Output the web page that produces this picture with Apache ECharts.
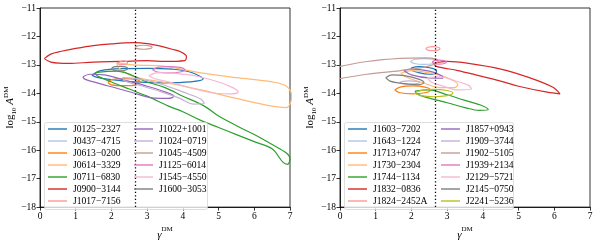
<!DOCTYPE html>
<html><head><meta charset="utf-8">
<script src="https://cdn.jsdelivr.net/npm/echarts@6/dist/echarts.min.js"></script>
<style>html,body{margin:0;padding:0;background:#fff}#c{width:598px;height:246px}</style>
</head><body><div id="c"></div>
<script>
// ---- reference value of gamma (dotted line) ----
const GAMMA_REF = 8/3;
const Y_TICKS = [-18,-17,-16,-15,-14,-13,-12,-11];
const X_TICKS = [0,1,2,3,4,5,6,7];

// ---- left panel pulsars ----
const LEFT_NAMES = ['J0125−2327','J0437−4715','J0613−0200','J0614−3329','J0711−6830','J0900−3144','J1017−7156',
                    'J1022+1001','J1024−0719','J1045−4509','J1125−6014','J1545−4550','J1600−3053'];
const J0125 = [[1.45,-13.36],[1.7,-13.2],[2.3,-13.13],[3.0,-13.12],[3.7,-13.15],[4.2,-13.25],[4.57,-13.5],[4.2,-13.6],[3.5,-13.63],[2.7,-13.6],[2.0,-13.52],[1.6,-13.44],[1.45,-13.36]];
const J0437 = [];
const J0613 = [[1.9,-13.62],[2.0,-13.52],[2.35,-13.48],[2.7,-13.52],[2.8,-13.6],[2.7,-13.7],[2.35,-13.73],[2.0,-13.7],[1.9,-13.62]];
const J0614 = [[2.15,-12.92],[2.6,-13.0],[3.5,-13.05],[4.5,-13.28],[5.5,-13.45],[6.5,-13.6],[6.9,-13.75],[7.05,-14.1],[6.9,-14.5],[6.5,-14.45],[5.5,-14.18],[4.5,-13.88],[3.5,-13.62],[2.6,-13.4],[2.2,-13.1],[2.15,-12.92]];
const J0711 = [[1.55,-13.27],[2.15,-13.22],[3.0,-13.6],[3.5,-13.8],[4.0,-14.1],[4.6,-14.45],[5.0,-14.8],[5.6,-15.2],[6.0,-15.45],[6.5,-15.8],[6.9,-16.1],[7.0,-16.3],[6.93,-16.5],[6.8,-16.42],[6.5,-15.95],[6.0,-15.7],[5.5,-15.45],[5.0,-15.2],[4.5,-14.95],[4.0,-14.65],[3.6,-14.45],[3.0,-14.1],[2.5,-13.85],[2.0,-13.6],[1.6,-13.38],[1.55,-13.27]];
const J0900 = [[0.12,-12.78],[0.3,-12.62],[0.6,-12.52],[1.0,-12.42],[1.5,-12.32],[2.0,-12.26],[2.6,-12.22],[3.0,-12.25],[3.4,-12.35],[3.7,-12.45],[3.95,-12.55],[4.1,-12.7],[4.05,-12.85],[3.5,-12.88],[3.0,-12.85],[2.3,-12.88],[1.5,-12.9],[0.8,-12.95],[0.3,-12.9],[0.12,-12.78]];
const J1017 = [[2.17,-12.95],[2.25,-12.88],[2.35,-12.86],[2.45,-12.92],[2.4,-12.98],[2.25,-12.99],[2.17,-12.95]];
const J1022 = [[1.2,-13.42],[1.4,-13.33],[1.8,-13.35],[2.4,-13.55],[3.0,-13.75],[3.5,-13.95],[3.75,-14.1],[3.6,-14.18],[3.2,-14.17],[2.6,-13.98],[2.0,-13.77],[1.5,-13.6],[1.25,-13.5],[1.2,-13.42]];
const J1024 = [[2.3,-13.45],[2.8,-13.5],[3.4,-13.68],[4.0,-13.95],[4.5,-14.2],[4.6,-14.35],[4.3,-14.38],[3.9,-14.17],[3.4,-13.95],[2.8,-13.72],[2.4,-13.58],[2.3,-13.45]];
const J1045 = [[2.66,-12.38],[2.73,-12.33],[2.9,-12.31],[3.07,-12.33],[3.14,-12.38],[3.07,-12.43],[2.9,-12.45],[2.73,-12.43],[2.66,-12.38]];
const J1125 = [[3.15,-13.17],[3.29,-13.09],[3.6,-13.06],[3.92,-13.09],[4.05,-13.17],[3.92,-13.25],[3.6,-13.28],[3.29,-13.25],[3.15,-13.17]];
const J1545 = [[3.05,-13.38],[3.3,-13.27],[3.8,-13.3],[4.4,-13.4],[5.0,-13.6],[5.4,-13.8],[5.55,-13.95],[5.3,-14.02],[4.8,-13.98],[4.2,-13.8],[3.6,-13.6],[3.2,-13.48],[3.05,-13.38]];
const J1600 = [[2.0,-13.13],[2.07,-13.07],[2.23,-13.05],[2.39,-13.07],[2.46,-13.13],[2.39,-13.19],[2.23,-13.21],[2.07,-13.19],[2.0,-13.13]];
const LEFT_DATA = [J0125,J0437,J0613,J0614,J0711,J0900,J1017,J1022,J1024,J1045,J1125,J1545,J1600];
const LEFT_COLORS = ['#1f77b4','#aec7e8','#ff7f0e','#ffbb78','#2ca02c','#d62728','#ff9896','#9467bd','#c5b0d5','#c49c94','#e377c2','#f7b6d2','#7f7f7f'];

// ---- right panel pulsars ----
const RIGHT_NAMES = ['J1603−7202','J1643−1224','J1713+0747','J1730−2304','J1744−1134','J1832−0836','J1824−2452A',
                     'J1857+0943','J1909−3744','J1902−5105','J1939+2134','J2129−5721','J2145−0750','J2241−5236'];
const J1603 = [[2.0,-13.1],[2.2,-13.06],[2.5,-13.1],[2.7,-13.2],[2.7,-13.3],[2.5,-13.33],[2.2,-13.27],[2.0,-13.17],[2.0,-13.1]];
const J1643 = [[1.97,-12.88],[2.08,-12.81],[2.35,-12.78],[2.62,-12.81],[2.73,-12.88],[2.62,-12.95],[2.35,-12.98],[2.08,-12.95],[1.97,-12.88]];
const J1713 = [[1.53,-13.88],[1.68,-13.78],[2.03,-13.74],[2.38,-13.78],[2.53,-13.88],[2.38,-13.98],[2.03,-14.02],[1.68,-13.98],[1.53,-13.88]];
const J1730 = [[1.7,-13.3],[2.0,-13.2],[2.5,-13.28],[3.0,-13.45],[3.3,-13.7],[3.2,-13.8],[2.8,-13.8],[2.3,-13.62],[1.9,-13.45],[1.7,-13.3]];
const J1744 = [[2.1,-13.92],[2.5,-13.88],[3.0,-14.05],[3.5,-14.25],[3.95,-14.42],[4.15,-14.57],[3.9,-14.6],[3.5,-14.5],[3.0,-14.33],[2.5,-14.17],[2.15,-14.02],[2.1,-13.92]];
const J1832 = [[2.62,-12.95],[3.0,-12.88],[3.6,-12.95],[4.5,-13.15],[5.3,-13.45],[5.95,-13.78],[6.16,-14.02],[5.8,-13.96],[5.0,-13.75],[4.5,-13.57],[3.8,-13.35],[3.3,-13.2],[2.7,-13.05],[2.62,-12.95]];
const J1824 = [[2.4,-12.43],[2.46,-12.38],[2.6,-12.36],[2.74,-12.38],[2.8,-12.43],[2.74,-12.48],[2.6,-12.5],[2.46,-12.48],[2.4,-12.43]];
const J1857 = [[1.78,-13.2],[2.0,-13.15],[2.5,-13.22],[2.85,-13.38],[2.88,-13.47],[2.5,-13.46],[2.0,-13.35],[1.78,-13.2]];
const J1909 = [[1.67,-13.62],[1.75,-13.58],[1.95,-13.56],[2.15,-13.58],[2.23,-13.62],[2.15,-13.66],[1.95,-13.68],[1.75,-13.66],[1.67,-13.62]];
const J1902 = [[-0.3,-13.1],[0,-13.05],[0.75,-12.88],[1.68,-12.77],[2.4,-12.75],[2.7,-12.8],[2.75,-12.88],[2.45,-13.05],[1.7,-13.2],[0.75,-13.33],[0,-13.48],[-0.3,-13.53]];
const J1939 = [[2.58,-12.9],[2.64,-12.85],[2.78,-12.83],[2.92,-12.85],[2.98,-12.9],[2.92,-12.95],[2.78,-12.97],[2.64,-12.95],[2.58,-12.9]];
const J2129 = [[2.45,-13.45],[2.8,-13.42],[3.2,-13.55],[3.6,-13.72],[3.68,-13.85],[3.3,-13.88],[2.9,-13.75],[2.55,-13.6],[2.45,-13.45]];
const J2145 = [[1.28,-13.45],[1.45,-13.35],[1.8,-13.38],[2.2,-13.5],[2.35,-13.62],[2.2,-13.7],[1.8,-13.66],[1.4,-13.57],[1.28,-13.45]];
const J2241 = [[2.1,-13.99],[2.26,-13.9],[2.63,-13.86],[3.0,-13.9],[3.16,-13.99],[3.0,-14.08],[2.63,-14.12],[2.26,-14.08],[2.1,-13.99]];
const RIGHT_DATA = [J1603,J1643,J1713,J1730,J1744,J1832,J1824,J1857,J1909,J1902,J1939,J2129,J2145,J2241];
const RIGHT_COLORS = ['#1f77b4','#aec7e8','#ff7f0e','#ffbb78','#2ca02c','#d62728','#ff9896','#9467bd','#c5b0d5','#c49c94','#e377c2','#f7b6d2','#7f7f7f','#bcbd22'];

const SERIF = '"Liberation Serif","DejaVu Serif",serif';
const minus = v => String(v).replace('-', '\u2212');

function makeAxes(idx) {
  const xa = {
    type:'value', gridIndex:idx, min:0, max:7, interval:1,
    name:'{i|γ}{s|DM}', nameLocation:'middle', nameGap:12,
    nameTextStyle:{ rich:{
      i:{fontFamily:SERIF,fontStyle:'italic',fontSize:11,color:'#000',lineHeight:15,verticalAlign:'bottom'},
      s:{fontFamily:SERIF,fontSize:7,color:'#000',lineHeight:15,verticalAlign:'top'} } },
    axisLine:{show:true,onZero:false,lineStyle:{color:'#000',width:0.8}},
    axisTick:{show:true,inside:false,length:3.5,lineStyle:{color:'#000',width:0.8}},
    axisLabel:{fontFamily:SERIF,fontSize:9.5,color:'#000',margin:4,formatter:minus},
    splitLine:{show:false}
  };
  const ya = {
    type:'value', gridIndex:idx, min:-18, max:-11, interval:1,
    name:'{r|log}{b|10}{i| A}{s|DM}', nameLocation:'middle', nameGap:20, nameRotate:90,
    nameTextStyle:{ rich:{
      r:{fontFamily:SERIF,fontSize:11,color:'#000',lineHeight:15,verticalAlign:'middle'},
      b:{fontFamily:SERIF,fontSize:7,color:'#000',lineHeight:15,verticalAlign:'bottom'},
      i:{fontFamily:SERIF,fontStyle:'italic',fontSize:11,color:'#000',lineHeight:15,verticalAlign:'middle'},
      s:{fontFamily:SERIF,fontSize:7,color:'#000',lineHeight:15,verticalAlign:'top'} } },
    axisLine:{show:true,onZero:false,lineStyle:{color:'#000',width:0.8}},
    axisTick:{show:true,inside:false,length:3.5,lineStyle:{color:'#000',width:0.8}},
    axisLabel:{fontFamily:SERIF,fontSize:9.5,color:'#000',margin:4,formatter:minus},
    splitLine:{show:false}
  };
  return [xa, ya];
}

const [x0,y0] = makeAxes(0);
const [x1,y1] = makeAxes(1);

const series = [];
function addPanel(names, datas, colors, idx) {
  names.forEach((n,i) => {
    series.push({
      name:n, type:'line', xAxisIndex:idx, yAxisIndex:idx,
      data:datas[i], symbol:'none', showSymbol:false, smooth:0.35,
      lineStyle:{color:colors[i],width:1.2}, itemStyle:{color:colors[i]},
      emphasis:{disabled:true}, z:2
    });
  });
  series.push({
    name:'ref'+idx, type:'line', xAxisIndex:idx, yAxisIndex:idx, data:[], symbol:'none',
    markLine:{ silent:true, symbol:['none','none'], label:{show:false},
      lineStyle:{color:'#000',type:[1.3,2.2],width:1.3}, data:[{xAxis:GAMMA_REF}] },
    z:3
  });
}
addPanel(LEFT_NAMES, LEFT_DATA, LEFT_COLORS, 0);
addPanel(RIGHT_NAMES, RIGHT_DATA, RIGHT_COLORS, 1);

function legendCol(data, left, top) {
  return {
    data, left, top, orient:'vertical', padding:0, itemGap:0, itemWidth:19, itemHeight:12,
    icon:'path://M0,5.3H19V6.7H0Z', selectedMode:false, z:6,
    textStyle:{fontFamily:SERIF,fontSize:9.6,color:'#000',lineHeight:12,padding:[0,0,0,1]}
  };
}

const option = {
  animation:false,
  backgroundColor:'#fff',
  grid:[
    {left:40, top:8, width:250, height:206, show:true, borderColor:'#000', borderWidth:0.8, backgroundColor:'transparent'},
    {left:340, top:8, width:250, height:206, show:true, borderColor:'#000', borderWidth:0.8, backgroundColor:'transparent'}
  ],
  xAxis:[x0,x1], yAxis:[y0,y1],
  legend:[
    legendCol(LEFT_NAMES.slice(0,7), 48, 123),
    legendCol(LEFT_NAMES.slice(7), 134, 123),
    legendCol(RIGHT_NAMES.slice(0,7), 348, 123),
    legendCol(RIGHT_NAMES.slice(7), 441, 123)
  ],
  graphic:[
    {type:'rect', z:5, shape:{x:44.5,y:122.5,width:163,height:87,r:2}, style:{fill:'rgba(255,255,255,0.8)',stroke:'#d5d5d5',lineWidth:0.8}},
    {type:'rect', z:5, shape:{x:344.5,y:122.5,width:169,height:87,r:2}, style:{fill:'rgba(255,255,255,0.8)',stroke:'#d5d5d5',lineWidth:0.8}}
  ],
  series
};
const chart = echarts.init(document.getElementById('c'), null, {renderer:'canvas'});
chart.setOption(option);
</script></body></html>
